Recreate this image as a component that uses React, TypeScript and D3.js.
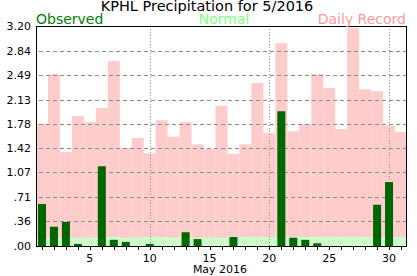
import React from "react";
import * as d3 from "d3";

const days: number[] = d3.range(1, 32);
const observed: number[] = [0.61, 0.28, 0.35, 0.03, 0, 1.16, 0.09, 0.06, 0, 0.03, 0, 0, 0.2, 0.1, 0, 0, 0.13, 0, 0, 0, 1.96, 0.12, 0.09, 0.04, 0, 0, 0, 0, 0.6, 0.93, 0];
const normal: number[] = [0.11, 0.12, 0.12, 0.12, 0.12, 0.13, 0.13, 0.12, 0.12, 0.13, 0.13, 0.12, 0.12, 0.12, 0.12, 0.12, 0.13, 0.13, 0.13, 0.13, 0.13, 0.13, 0.13, 0.13, 0.13, 0.13, 0.13, 0.13, 0.13, 0.13, 0.13];
const record: number[] = [1.78, 2.5, 1.37, 1.89, 1.8, 2.01, 2.69, 1.43, 1.57, 1.35, 1.83, 1.59, 1.8, 1.48, 1.41, 2.04, 1.34, 1.48, 2.37, 1.64, 2.95, 1.67, 1.77, 2.5, 2.3, 1.7, 3.17, 2.28, 2.25, 1.75, 1.66];
const yTicks: number[] = [0, 0.36, 0.71, 1.07, 1.42, 1.78, 2.13, 2.49, 2.84, 3.2];
const yTickLabels: string[] = [".00", ".36", ".71", "1.07", "1.42", "1.78", "2.13", "2.49", "2.84", "3.20"];
const xLabelDays: number[] = [5, 10, 15, 20, 25, 30];
const vLineDays: number[] = [10, 20, 30];
const title = "KPHL Precipitation for 5/2016";
const xTitle = "May 2016";

const W = 417, H = 276;
const L = 36, R = 407, T = 26, B = 246;

export default function App() {
  const x = d3.scaleLinear().domain([0.5, 31.5]).range([L, R]);
  const y = d3.scaleLinear().domain([0, 3.2]).range([B, T]);
  const slot = x(1.5) - x(0.5);
  const obsW = 8;
  const font = "DejaVu Sans, Verdana, sans-serif";
  return (
    <>
      <style>{`body{margin:0}`}</style>
      <svg width={W} height={H} style={{ display: "block" }} fontFamily={font}>
        <rect x={0} y={0} width={W} height={H} fill="#fff" />
        {days.map((d, i) => (
          <rect key={"r" + d} x={x(d - 0.5)} y={y(record[i])} width={slot} height={B - y(record[i])} fill="#ffcccc" />
        ))}
        {days.map((d, i) => (
          <rect key={"n" + d} x={x(d - 0.5)} y={y(normal[i])} width={slot} height={B - y(normal[i])} fill="#ccffcc" />
        ))}
        {yTicks.slice(1, -1).map((t) => (
          <line key={"g" + t} x1={L + 3} x2={R} y1={Math.round(y(t)) + 0.5} y2={Math.round(y(t)) + 0.5} stroke="#8c8c8c" strokeDasharray="4,3" />
        ))}
        {vLineDays.map((d) => (
          <line key={"v" + d} x1={Math.round(x(d)) + 0.5} x2={Math.round(x(d)) + 0.5} y1={T} y2={B} stroke="#8c8c8c" strokeDasharray="1,2" />
        ))}
        {days.map((d, i) =>
          observed[i] > 0 ? (
            <rect key={"o" + d} x={x(d) - obsW / 2} y={y(observed[i])} width={obsW} height={B - y(observed[i])} fill="#006600" />
          ) : null
        )}
        <rect x={L + 0.5} y={T + 0.5} width={R - L - 1} height={B - T} fill="none" stroke="#000" strokeWidth={1} />
        {days.map((d) => (
          <line key={"t" + d} x1={Math.round(x(d)) + 0.5} x2={Math.round(x(d)) + 0.5} y1={B} y2={B + 4} stroke="#000" />
        ))}
        {yTicks.map((t, i) => (
          <text key={"yl" + t} x={31} y={y(t) + 4} textAnchor="end" fontSize={11} fill="#000">{yTickLabels[i]}</text>
        ))}
        {xLabelDays.map((d) => (
          <text key={"xl" + d} x={x(d)} y={262} textAnchor="middle" fontSize={11} fill="#000">{d}</text>
        ))}
        <text x={220} y={273} textAnchor="middle" fontSize={11} fill="#000">{xTitle}</text>
        <text x={207} y={11} textAnchor="middle" fontSize={14.5} fill="#000">{title}</text>
        <text x={36} y={24} fontSize={14} fill="#008000">Observed</text>
        <text x={224} y={24} textAnchor="middle" fontSize={14} fill="#80ff80">Normal</text>
        <text x={406} y={24} textAnchor="end" fontSize={14} fill="#ff9999">Daily Record</text>
      </svg>
    </>
  );
}
